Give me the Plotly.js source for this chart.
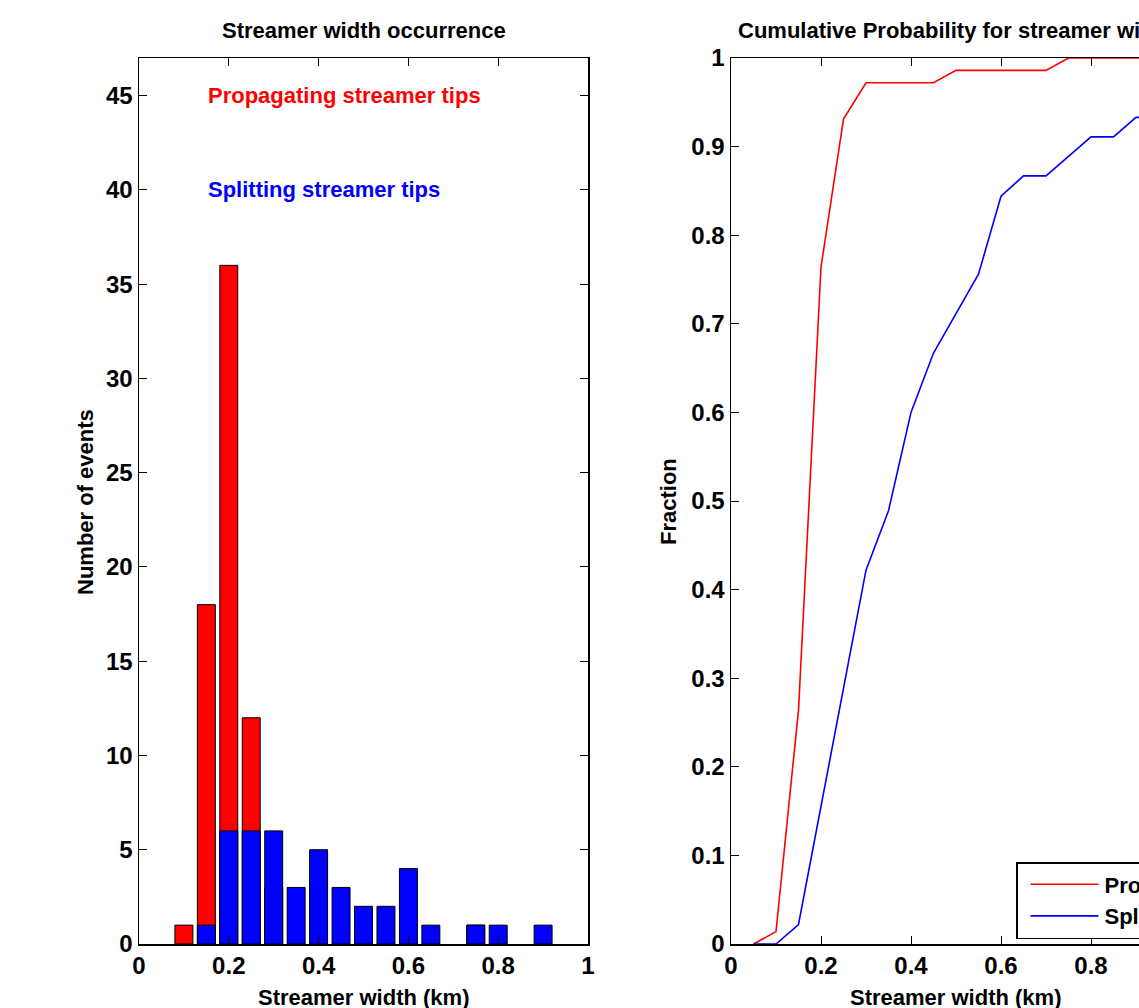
<!DOCTYPE html>
<html>
<head>
<meta charset="utf-8">
<script src="https://cdn.plot.ly/plotly-3.0.1.min.js"></script>
<style>
  html, body { margin: 0; padding: 0; overflow: hidden; background: #fff; }
  #chart { width: 1450px; height: 1008px; }
</style>
</head>
<body>
<div id="chart"></div>
<script>
// Histogram bin centres (km)
const binCentres = [0.1, 0.15, 0.2, 0.25, 0.3, 0.35, 0.4, 0.45, 0.5, 0.55, 0.6, 0.65, 0.7, 0.75, 0.8, 0.85, 0.9];
// Counts, propagating streamer tips (red)
const propagatingCounts = [1, 18, 36, 12, 3, 0, 0, 0, 1, 0, 0, 0, 0, 1, 0, 0, 0];
// Counts, splitting streamer tips (blue)
const splittingCounts = [0, 1, 6, 6, 6, 3, 5, 3, 2, 2, 4, 1, 0, 1, 1, 0, 1];

// Cumulative probability curves
const cdfX = [0.05, 0.1, 0.15, 0.2, 0.25, 0.3, 0.35, 0.4, 0.45, 0.5, 0.55, 0.6, 0.65, 0.7, 0.75, 0.8, 0.85, 0.9, 0.95, 1.0];
const propagatingCdf = [0, 0.014, 0.264, 0.764, 0.931, 0.972, 0.972, 0.972, 0.972, 0.986, 0.986, 0.986, 0.986, 0.986, 1.0, 1.0, 1.0, 1.0, 1.0, 1.0];
const splittingCdf = [0, 0, 0.022, 0.156, 0.289, 0.422, 0.489, 0.6, 0.667, 0.711, 0.756, 0.844, 0.867, 0.867, 0.889, 0.911, 0.911, 0.933, 0.933, 0.933];

const leftYTicks = [0, 5, 10, 15, 20, 25, 30, 35, 40, 45];
const rightYTicks = [0, 0.1, 0.2, 0.3, 0.4, 0.5, 0.6, 0.7, 0.8, 0.9, 1];
const rightYLabels = ['0', '0.1', '0.2', '0.3', '0.4', '0.5', '0.6', '0.7', '0.8', '0.9', '1'];
const xTicks = [0, 0.2, 0.4, 0.6, 0.8, 1];
const xTickLabels = ['0', '0.2', '0.4', '0.6', '0.8', '1'];

const FONT = 'Liberation Sans, Arial, Helvetica, sans-serif';
const FS = 22;
const TFS = 24;
const txt = (c) => ({ family: FONT, size: FS, color: c || '#000', weight: 'bold' });

// empty bins are not drawn
const nz = arr => arr.map(v => (v === 0 ? null : v));

const traces = [
  {
    type: 'bar', x: binCentres, y: nz(propagatingCounts), width: 0.04,
    marker: { color: '#ff0000', line: { color: '#000000', width: 1 } },
    xaxis: 'x', yaxis: 'y', showlegend: false, name: 'Propagating streamer tips'
  },
  {
    type: 'bar', x: binCentres, y: nz(splittingCounts), width: 0.04,
    marker: { color: '#0000ff', line: { color: '#000000', width: 1 } },
    xaxis: 'x', yaxis: 'y', showlegend: false, name: 'Splitting streamer tips'
  },
  {
    type: 'scatter', mode: 'lines', x: cdfX, y: propagatingCdf,
    line: { color: '#ff0000', width: 1.6 },
    xaxis: 'x2', yaxis: 'y2', name: 'Propagating streamer tips'
  },
  {
    type: 'scatter', mode: 'lines', x: cdfX, y: splittingCdf,
    line: { color: '#0000ff', width: 1.6 },
    xaxis: 'x2', yaxis: 'y2', name: 'Splitting streamer tips'
  }
];

const axisCommon = {
  showgrid: false, zeroline: false, showline: true, linecolor: '#000', linewidth: 1.5,
  mirror: 'ticks', ticks: 'inside', ticklen: 8, tickcolor: '#000', tickwidth: 1,
  tickfont: { family: FONT, size: TFS, color: '#000', weight: 'bold' }, fixedrange: true
};

const L = 139, W = 1450, H = 1008, T = 58, B = 944;
const PW = 1181 - L, PH = B - T;
const px = v => (v - L) / PW;
const py = v => (B - v) / PH;

const ann = (text, x, y, angle) => ({
  text: text, xref: 'paper', yref: 'paper', x: px(x), y: py(y),
  xanchor: 'center', yanchor: 'middle', textangle: angle || 0, showarrow: false, font: txt()
});

const layout = {
  width: W, height: H,
  margin: { l: L, r: W - 1181, t: T, b: H - B },
  paper_bgcolor: '#fff', plot_bgcolor: '#fff',
  barmode: 'overlay', bargap: 0,
  font: { family: FONT, size: FS, color: '#000' },
  xaxis: Object.assign({}, axisCommon, { domain: [0, px(588)], range: [0, 1], tickvals: xTicks, ticktext: xTickLabels, anchor: 'y' }),
  yaxis: Object.assign({}, axisCommon, { range: [0, 47], tickvals: leftYTicks, anchor: 'x' }),
  xaxis2: Object.assign({}, axisCommon, { domain: [px(731), 1], range: [0, 1], tickvals: xTicks, ticktext: xTickLabels, anchor: 'y2' }),
  yaxis2: Object.assign({}, axisCommon, { range: [0, 1], tickvals: rightYTicks, ticktext: rightYLabels, anchor: 'x2' }),
  showlegend: true,
  legend: {
    x: px(1016), y: py(862), xanchor: 'left', yanchor: 'top',
    bgcolor: '#fff', bordercolor: '#000', borderwidth: 1.5,
    font: txt(), tracegroupgap: 0, itemwidth: 77
  },
  annotations: [
    ann('Streamer width occurrence', 363.5, 31),
    ann('Cumulative Probability for streamer width', 956, 31),
    ann('Streamer width (km)', 363.5, 997),
    ann('Streamer width (km)', 956, 997),
    ann('Number of events', 85, 502, -90),
    ann('Fraction', 668, 502, -90),
    { text: 'Propagating streamer tips', xref: 'x', yref: 'y', x: 0.15, y: 45, xanchor: 'left', yanchor: 'middle', showarrow: false, font: txt('#ff0000') },
    { text: 'Splitting streamer tips', xref: 'x', yref: 'y', x: 0.15, y: 40, xanchor: 'left', yanchor: 'middle', showarrow: false, font: txt('#0000ff') }
  ]
};

Plotly.newPlot('chart', traces, layout, { displayModeBar: false, staticPlot: true }).then(gd => {
  // lengthen the legend sample lines, as in the original figure
  gd.querySelectorAll('.legend .legendlines path').forEach(p => p.setAttribute('d', 'M13,0h68'));
});
</script>
</body>
</html>
